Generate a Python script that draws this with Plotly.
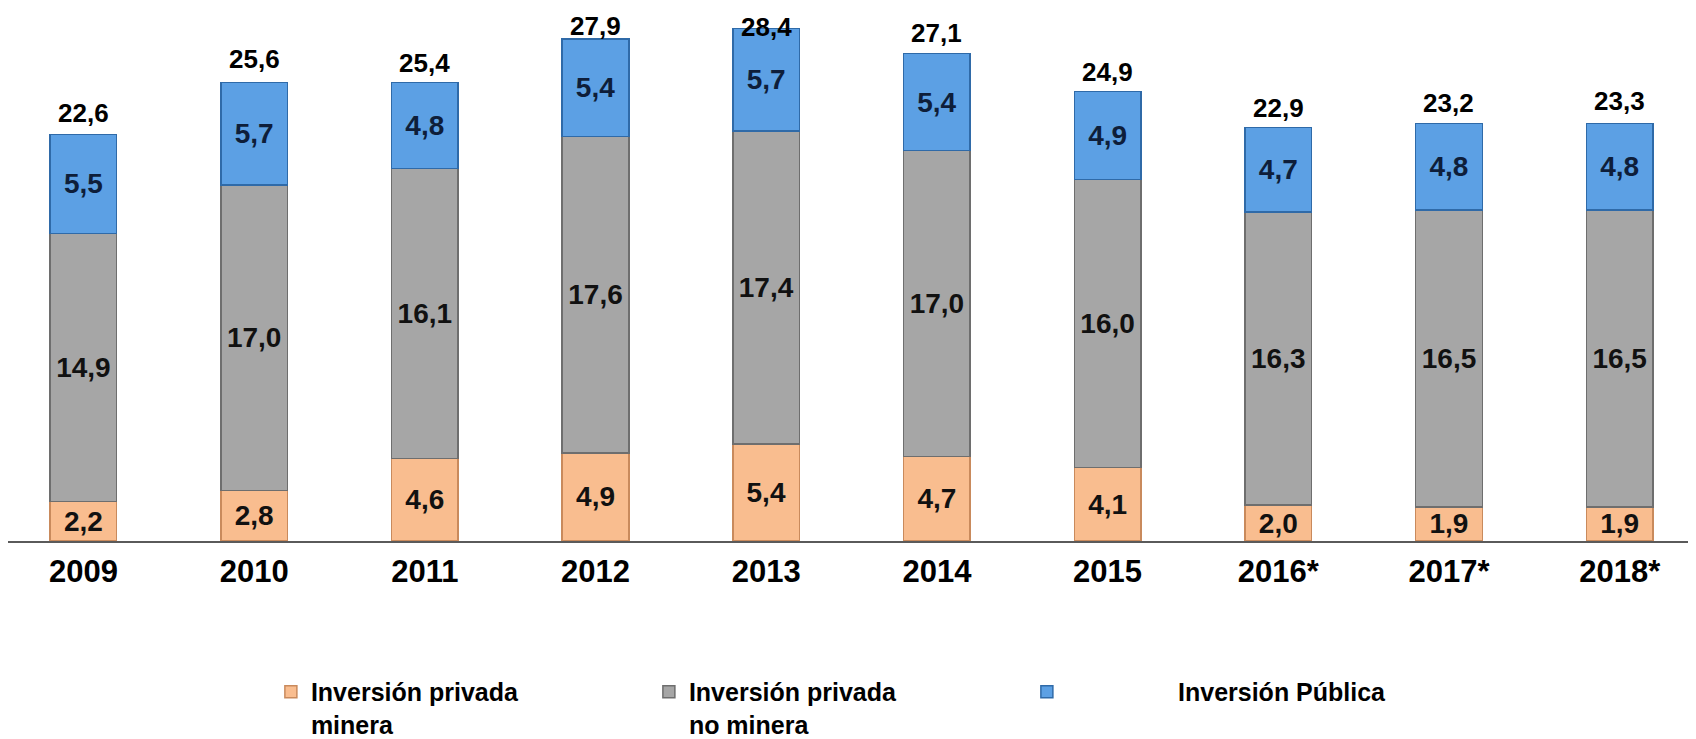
import plotly.graph_objects as go

# Inversión bruta fija (% del PBI)
years = ["2009", "2010", "2011", "2012", "2013", "2014", "2015", "2016*", "2017*", "2018*"]
privada_minera = [2.2, 2.8, 4.6, 4.9, 5.4, 4.7, 4.1, 2.0, 1.9, 1.9]
privada_no_minera = [14.9, 17.0, 16.1, 17.6, 17.4, 17.0, 16.0, 16.3, 16.5, 16.5]
publica = [5.5, 5.7, 4.8, 5.4, 5.7, 5.4, 4.9, 4.7, 4.8, 4.8]
totales = [22.6, 25.6, 25.4, 27.9, 28.4, 27.1, 24.9, 22.9, 23.2, 23.3]

FONT = "Liberation Sans, Arial, sans-serif"
PLOT_H = 543  # plot area height in px
Y_MAX = 29.63

series = [
    ("Inversión privada<br>minera", privada_minera, "#F9BD8F", "#C98A5C", "#111111"),
    ("Inversión privada<br>no minera", privada_no_minera, "#A6A6A6", "#6E6E6E", "#111111"),
    ("\u00a0" * 16 + "Inversión Pública", publica, "#5CA0E4", "#2F6AA8", "#0E1E3A"),
]

fig = go.Figure()
for name, vals, fill, edge, txt in series:
    fig.add_trace(go.Bar(
        x=years,
        y=vals,
        name=name,
        width=0.39,
        marker=dict(color=fill, line=dict(color=edge, width=1.5)),
        texttemplate="%{y:.1f}",
        textposition="inside",
        insidetextanchor="middle",
        constraintext="none",
        textfont=dict(family=FONT, size=28, color=txt, weight="bold"),
        hoverinfo="skip",
    ))

# totals above each bar (x given as category index);
# the tallest ones are pushed down so they stay inside the page
for i, tot in enumerate(totales):
    top_px = PLOT_H * (1 - tot / Y_MAX)
    fig.add_annotation(
        x=i, y=tot, text=f"{tot:.1f}".replace(".", ","),
        showarrow=False, yanchor="bottom",
        yshift=min(4, top_px - 36),
        font=dict(family=FONT, size=26, color="#000000", weight="bold"),
    )

fig.update_layout(
    barmode="stack",
    separators=",.",
    width=1696,
    height=739,
    margin=dict(l=0, r=0, t=0, b=739 - PLOT_H),
    plot_bgcolor="white",
    paper_bgcolor="white",
    xaxis=dict(
        type="category",
        range=[-0.442, 9.494],
        showgrid=False,
        showline=True,
        linecolor="#5A5A5A",
        linewidth=2,
        ticks="",
        ticklabelstandoff=2,
        tickfont=dict(family=FONT, size=31, color="#000000", weight="bold"),
    ),
    yaxis=dict(range=[0, Y_MAX], visible=False),
    legend=dict(
        orientation="h",
        x=0.155,
        xanchor="left",
        y=-0.24,
        yanchor="top",
        entrywidth=333,
        valign="top",
        traceorder="normal",
        font=dict(family=FONT, size=25, color="#000000", weight="bold"),
    ),
    showlegend=True,
)

fig.write_html("out.html")
